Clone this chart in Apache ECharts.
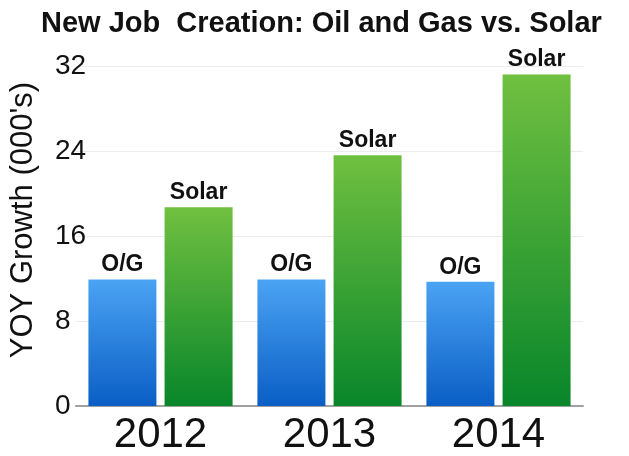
<!DOCTYPE html>
<html><head><meta charset="utf-8">
<script src="https://cdn.jsdelivr.net/npm/echarts@6/dist/echarts.min.js"></script>
<style>html,body{margin:0;padding:0;background:#fff}#c{width:629px;height:456px}</style>
</head><body><div id="c"></div>
<script>
const categories = ['2012', '2013', '2014'];
const oilGas = [11.9, 11.9, 11.7];
const solar = [18.7, 23.6, 31.2];
const yTicks = [0, 8, 16, 24, 32];
const FONT = '"Liberation Sans", Arial, sans-serif';

const chart = echarts.init(document.getElementById('c'));
function grad(top, bottom) {
  return new echarts.graphic.LinearGradient(0, 0, 0, 1, [{offset: 0, color: top}, {offset: 1, color: bottom}]);
}
chart.setOption({
  animation: false,
  title: {text: 'New Job  Creation: Oil and Gas vs. Solar', left: 36, top: 4,
    textStyle: {fontFamily: FONT, fontSize: 29, fontWeight: 'bold', color: '#111'}},
  grid: {left: 75, right: 46, top: 66, bottom: 45},
  xAxis: {type: 'category', data: categories,
    axisLine: {lineStyle: {color: '#a0a0a0', width: 2}}, axisTick: {show: false},
    axisLabel: {fontFamily: FONT, fontSize: 42, color: '#111', margin: 8}},
  yAxis: {type: 'value', min: yTicks[0], max: yTicks[yTicks.length - 1], interval: 8,
    name: "YOY Growth (000's)", nameLocation: 'middle', nameGap: 37,
    nameTextStyle: {fontFamily: FONT, fontSize: 31, color: '#111', padding: [0, 0, 0, 32]},
    axisLine: {show: false}, axisTick: {show: false},
    splitLine: {lineStyle: {color: '#ececec'}},
    axisLabel: {fontFamily: FONT, fontSize: 28, color: '#111', margin: 21, align: 'left'}},
  series: [
    {name: 'O/G', type: 'bar', data: oilGas, barWidth: 68, barGap: '12%',
      itemStyle: {color: grad('#4ba3f3', '#0a5ec5')},
      label: {show: true, position: 'top', formatter: 'O/G', fontFamily: FONT, fontSize: 23, fontWeight: 'bold', color: '#111', distance: 3}},
    {name: 'Solar', type: 'bar', data: solar, barWidth: 68,
      itemStyle: {color: grad('#70c040', '#08862a')},
      label: {show: true, position: 'top', formatter: 'Solar', fontFamily: FONT, fontSize: 23, fontWeight: 'bold', color: '#111', distance: 3}}
  ]
});
</script></body></html>
